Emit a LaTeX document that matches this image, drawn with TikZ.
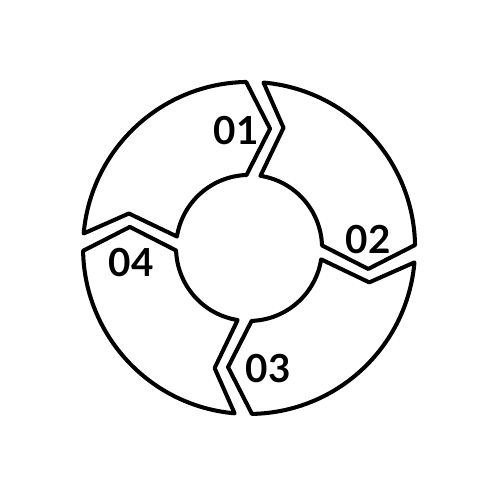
\documentclass[tikz,border=0pt]{standalone}
\usepackage{fontspec}
\setsansfont{Lato}
\usetikzlibrary{calc}

\begin{document}
\begin{tikzpicture}[scale=0.02,line join=round,line cap=round]
  \tikzstyle{every node}=[font=\sffamily\bfseries\fontsize{22}{22}\selectfont]
  \tikzstyle{segment}=[draw=black,line width=2.3pt]

  \useasboundingbox (0,0) rectangle (500,500);
  \coordinate (O) at (249,252);

  % four ring pieces, each ending in a chevron
  \foreach \b/\e in {180/90, 90/0, 0/-90, -90/-180}
    \draw[segment] ($(O)+(\b-5:166)$) arc[start angle=\b-5,end angle=\e+1,radius=166]
      -- ($(O)+(\e-10:121)$) -- ($(O)+(\e+2:73)$)
      arc[start angle=\e+2,end angle=\b-9,radius=73]
      -- ($(O)+(\b-16:125)$) -- cycle;

  \node (one)   at (236,369) {01};
  \node (two)   at (368,260) {02};
  \node (three) at (268,131) {03};
  \node (four)  at (131,237) {04};
\end{tikzpicture}
\end{document}
